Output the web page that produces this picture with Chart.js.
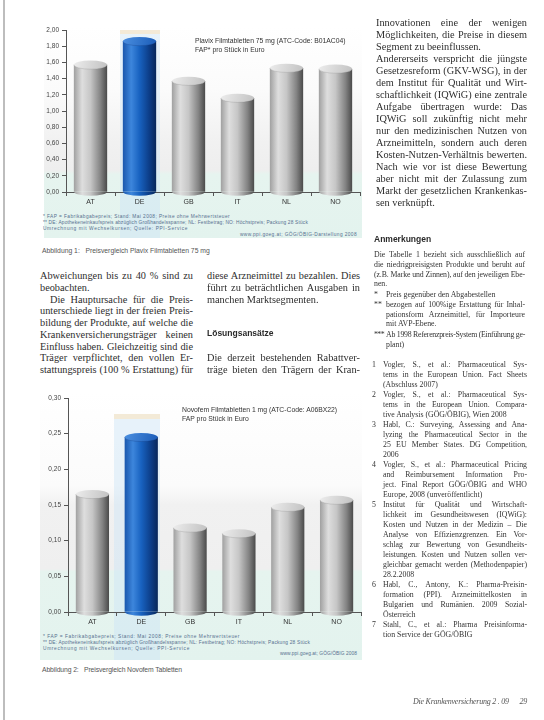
<!DOCTYPE html>
<html><head><meta charset="utf-8">
<script src="https://cdn.jsdelivr.net/npm/chart.js@4"></script>
<style>
html,body{margin:0;padding:0;background:#fff;}
#page{position:relative;width:544px;height:720px;overflow:hidden;background:#fff;}
.ln{position:absolute;white-space:nowrap;color:#333;}
.ln span{display:inline-block;white-space:pre;}
.body{font-family:"Liberation Serif",serif;font-size:10.3px;line-height:12px;height:12px;color:#2e2e2e;}
.small{font-family:"Liberation Serif",serif;font-size:7.8px;line-height:10px;height:10px;}
.head{font-family:"Liberation Sans",sans-serif;font-size:8.5px;font-weight:bold;line-height:12px;height:12px;color:#2a2a2a;}
.ctitle{font-family:"Liberation Sans",sans-serif;font-size:6.8px;line-height:9px;height:9px;color:#333;}
.fn{font-family:"Liberation Sans",sans-serif;font-size:4.8px;line-height:6px;height:6px;color:#56708e;}
.cap{font-family:"Liberation Sans",sans-serif;font-size:6.8px;line-height:10px;height:10px;color:#555;}
.foot{font-family:"Liberation Serif",serif;font-style:italic;font-size:8px;line-height:10px;height:10px;color:#555;}
.bg{position:absolute;}
canvas{position:absolute;}
</style></head>
<body><div id="page">
<div class="bg" style="left:3px;top:0;width:2px;height:720px;background:#bdbdbd"></div>
<div class="bg" style="left:44px;top:26px;width:318px;height:212px;background:linear-gradient(to bottom,#ffffff 0%,#fbfbfb 30%,#f1f1f1 55%,#eeeeee 68%,#e6f4ef 70%,#e3f3ee 100%)"></div>
<div class="bg" style="left:120px;top:30px;width:40px;height:208px;background:rgba(205,228,246,0.45)"></div>
<div class="bg" style="left:120px;top:30px;width:40px;height:4px;background:rgba(255,225,180,0.5)"></div>
<div class="bg" style="left:40px;top:392px;width:322px;height:268px;background:linear-gradient(to bottom,#ffffff 0%,#fbfbfb 35%,#f1f1f1 42%,#efefef 66%,#e6f4ef 67%,#e3f3ee 100%)"></div>
<div class="bg" style="left:114px;top:414px;width:46px;height:246px;background:rgba(205,228,246,0.45)"></div>
<div class="bg" style="left:114px;top:414px;width:46px;height:5px;background:rgba(255,225,180,0.5)"></div>
<canvas id="c1" width="335" height="193" style="left:30px;top:20px;width:335px;height:193px"></canvas>
<canvas id="c2" width="336" height="245" style="left:30px;top:388px;width:336px;height:245px"></canvas>
</div>
<script>
// ---- chart data ----
const categories = ['AT', 'DE', 'GB', 'IT', 'NL', 'NO'];
const plavixPrices = [1.57, 1.86, 1.37, 1.16, 1.53, 1.52];
const novofemPrices = [0.165, 0.245, 0.118, 0.110, 0.147, 0.157];
const plavixAxis = [0, 2.0, 0.2];      // min, max, step
const novofemAxis = [0, 0.30, 0.05];   // min, max, step
const highlightCountry = 'DE';

Chart.defaults.font.family = '"Liberation Sans", sans-serif';

function sideGradient(ctx, x, rx, blue) {
  const g = ctx.createLinearGradient(x - rx, 0, x + rx, 0);
  if (blue) {
    g.addColorStop(0, '#1a57ad'); g.addColorStop(0.25, '#3d86dc');
    g.addColorStop(0.5, '#1862c0'); g.addColorStop(0.8, '#0c3c86'); g.addColorStop(1, '#07265a');
  } else {
    g.addColorStop(0, '#a0a0a0'); g.addColorStop(0.25, '#dedede');
    g.addColorStop(0.5, '#c6c6c6'); g.addColorStop(0.8, '#838383'); g.addColorStop(1, '#4a4a4a');
  }
  return g;
}
const BAR_PCT = 0.68;
function barFill(c) {
  const ch = c.chart;
  const blue = ch.data.labels[c.dataIndex] === highlightCountry;
  if (!ch.chartArea || !ch.scales.x) return blue ? '#1862c0' : '#b0b0b0';
  const xs = ch.scales.x;
  const x = xs.getPixelForValue(c.dataIndex);
  const rx = xs.width / ch.data.labels.length * BAR_PCT / 2;
  return sideGradient(ch.ctx, x, rx, blue);
}
const cylinder = {
  id: 'cylinder',
  afterDatasetsDraw(chart) {
    const ctx = chart.ctx;
    const meta = chart.getDatasetMeta(0);
    meta.data.forEach((bar, i) => {
      const p = bar.getProps(['x', 'y', 'base', 'width'], true);
      const rx = p.width / 2, ry = Math.max(3, p.width * 0.13);
      const blue = chart.data.labels[i] === highlightCountry;
      ctx.save();
      ctx.fillStyle = sideGradient(ctx, p.x, rx, blue);
      ctx.beginPath(); ctx.ellipse(p.x, p.base, rx, ry, 0, 0, Math.PI); ctx.fill();
      const g = ctx.createLinearGradient(p.x - rx, p.y - ry, p.x + rx, p.y + ry);
      if (blue) { g.addColorStop(0, '#4b8fe0'); g.addColorStop(1, '#1a5cb8'); }
      else { g.addColorStop(0, '#ececec'); g.addColorStop(1, '#c2c2c2'); }
      ctx.fillStyle = g;
      ctx.beginPath(); ctx.ellipse(p.x, p.y, rx, ry, 0, 0, Math.PI * 2); ctx.fill();
      ctx.strokeStyle = blue ? 'rgba(10,40,100,0.35)' : 'rgba(110,110,110,0.35)';
      ctx.lineWidth = 0.6;
      ctx.beginPath(); ctx.ellipse(p.x, p.y, rx, ry, 0, 0, Math.PI); ctx.stroke();
      ctx.restore();
    });
  }
};

function makeChart(id, values, axis, yWidth, decimals) {
  return new Chart(document.getElementById(id), {
    type: 'bar',
    data: { labels: categories, datasets: [{ data: values, backgroundColor: barFill, borderWidth: 0 }] },
    options: {
      responsive: false, animation: false, devicePixelRatio: 1,
      layout: { padding: { top: 10, right: 5, left: 0, bottom: 0 } },
      plugins: { legend: { display: false }, tooltip: { enabled: false } },
      datasets: { bar: { categoryPercentage: 1, barPercentage: BAR_PCT } },
      scales: {
        x: {
          grid: { drawOnChartArea: false, tickLength: 4, color: '#555' },
          border: { color: '#555', width: 1 },
          ticks: { font: { size: 7 }, color: '#333', padding: 2 },
          afterFit(s) { s.height = 21; }
        },
        y: {
          min: axis[0], max: axis[1],
          grid: { drawOnChartArea: false, tickLength: 4, color: '#555' },
          border: { color: '#555', width: 1 },
          ticks: { stepSize: axis[2], font: { size: 6.5 }, color: '#444', padding: 3,
                   callback: v => Number(v).toFixed(decimals).replace('.', ',') },
          afterFit(s) { s.width = yWidth; }
        }
      }
    },
    plugins: [cylinder]
  });
}
makeChart('c1', plavixPrices, plavixAxis, 36, 2);
makeChart('c2', novofemPrices, novofemAxis, 38, 2);

// ---- text ----
const page = document.getElementById('page');
function line(txt, x, yc, w, cls, mode) {
  const d = document.createElement('div');
  d.className = 'ln ' + cls;
  page.appendChild(d);
  const s = document.createElement('span');
  s.textContent = txt;
  d.appendChild(s);
  const lh = parseFloat(getComputedStyle(d).lineHeight);
  d.style.left = x + 'px'; d.style.top = (yc - lh / 2) + 'px'; d.style.width = w + 'px';
  const nat = s.getBoundingClientRect().width;
  if (mode === 'j' && nat < w) {
    const n = (txt.match(/ /g) || []).length;
    if (n) s.style.wordSpacing = ((w - nat) / n) + 'px';
  } else if (mode === 'f' || nat > w) {
    s.style.letterSpacing = ((w - nat) / txt.length) + 'px';
  }
  if (mode === 'r') d.style.textAlign = 'right';
}
// chart 1 texts
line('Plavix Filmtabletten 75 mg (ATC-Code: B01AC04)', 195, 40, 162, 'ctitle', 'l');
line('FAP* pro Stück in Euro', 195, 49, 120, 'ctitle', 'l');
line('* FAP = Fabrikabgabepreis; Stand: Mai 2008; Preise ohne Mehrwertsteuer', 43, 217, 187, 'fn', 'f');
line('** DE: Apothekeneinkaufspreis abzüglich Großhandelsspanne; NL: Festbetrag; NO: Höchstpreis; Packung 28 Stück', 43, 223, 265, 'fn', 'f');
line('Umrechnung mit Wechselkursen; Quelle: PPI-Service', 43, 229, 145, 'fn', 'f');
line('www.ppi.goeg.at; GÖG/ÖBIG-Darstellung 2008', 240, 235, 117, 'fn', 'f');
line('Abbildung 1:   Preisvergleich Plavix Filmtabletten 75 mg', 42, 251, 180, 'cap', 'l');
// chart 2 texts
line('Novofem Filmtabletten 1 mg (ATC-Code: A06BX22)', 182, 409, 178, 'ctitle', 'l');
line('FAP pro Stück in Euro', 182, 418, 120, 'ctitle', 'l');
line('* FAP = Fabrikabgabepreis; Stand: Mai 2008; Preise ohne Mehrwertsteuer', 43, 637, 197, 'fn', 'f');
line('** DE: Apothekeneinkaufspreis abzüglich Großhandelsspanne; NL: Festbetrag; NO: Höchstpreis; Packung 28 Stück', 43, 643, 267, 'fn', 'f');
line('Umrechnung mit Wechselkursen; Quelle: PPI-Service', 43, 649, 147, 'fn', 'f');
line('www.ppi.goeg.at; GÖG/ÖBIG 2008', 280, 654, 77, 'fn', 'f');
line('Abbildung 2:   Preisvergleich Novofem Tabletten', 42, 670, 140, 'cap', 'l');

// left body columns
const colL = [
  ['Abweichungen bis zu 40 % sind zu', 'j'], ['beobachten.', 'l'],
  ['Die Hauptursache für die Preis-', 'j', 10], ['unterschiede liegt in der freien Preis-', 'j'],
  ['bildung der Produkte, auf welche die', 'j'], ['Krankenversicherungsträger keinen', 'j'],
  ['Einfluss haben. Gleichzeitig sind die', 'j'], ['Träger verpflichtet, den vollen Er-', 'j'],
  ['stattungspreis (100 % Erstattung) für', 'j']
];
colL.forEach((l, i) => { const ind = l[2] || 0; line(l[0], 40 + ind, 276 + i * 11.75, 153 - ind, 'body', l[1]); });
line('diese Arzneimittel zu bezahlen. Dies', 207, 276, 153, 'body', 'j');
line('führt zu beträchtlichen Ausgaben in', 207, 287.75, 153, 'body', 'j');
line('manchen Marktsegmenten.', 207, 299.5, 153, 'body', 'l');
line('Lösungsansätze', 207, 333, 120, 'head', 'l');
line('Die derzeit bestehenden Rabattver-', 207, 358, 153, 'body', 'j');
line('träge bieten den Trägern der Kran-', 207, 370, 153, 'body', 'j');

// right column
const colR = [
  ['Innovationen eine der wenigen', 'j'], ['Möglichkeiten, die Preise in diesem', 'j'],
  ['Segment zu beeinflussen.', 'l'], ['Andererseits verspricht die jüngste', 'j'],
  ['Gesetzesreform (GKV-WSG), in der', 'j'], ['dem Institut für Qualität und Wirt-', 'j'],
  ['schaftlichkeit (IQWiG) eine zentrale', 'j'], ['Aufgabe übertragen wurde: Das', 'j'],
  ['IQWiG soll zukünftig nicht mehr', 'j'], ['nur den medizinischen Nutzen von', 'j'],
  ['Arzneimitteln, sondern auch deren', 'j'], ['Kosten-Nutzen-Verhältnis bewerten.', 'j'],
  ['Nach wie vor ist diese Bewertung', 'j'], ['aber nicht mit der Zulassung zum', 'j'],
  ['Markt der gesetzlichen Krankenkas-', 'j'], ['sen verknüpft.', 'l']
];
colR.forEach((l, i) => line(l[0], 376, 23 + i * 12, 151, 'body', l[1]));
line('Anmerkungen', 374, 239, 100, 'head', 'l');
const notes = [
  ['', 'Die Tabelle 1 bezieht sich ausschließlich auf', 'j'],
  ['', 'die niedrigpreisigsten Produkte und beruht auf', 'j'],
  ['', '(z.B. Marke und Zinnen), auf den jeweiligen Ebe-', 'j'],
  ['', 'nen.', 'l'],
  ['*', 'Preis gegenüber den Abgabestellen', 'l'],
  ['**', 'bezogen auf 100%ige Erstattung für Inhal-', 'j'],
  ['', 'pationsform Arzneimittel, für Importeure', 'j'],
  ['', 'mit AVP-Ebene.', 'l'],
  ['***', 'Ab 1998 Referenzpreis-System (Einführung ge-', 'j'],
  ['', 'plant)', 'l']
];
const noteY = [255, 265, 275, 284, 295, 305, 315, 324, 335, 345];
notes.forEach((n, i) => {
  if (i < 4) { line(n[1], 374, noteY[i], 151, 'small', n[2]); return; }
  if (n[0]) line(n[0], 374, noteY[i], 10, 'small', 'l');
  line(n[1], 386, noteY[i], 139, 'small', n[2]);
});
const refs = [
  ['1', 'Vogler, S., et al.: Pharmaceutical Sys-', 'j'],
  ['', 'tems in the European Union. Fact Sheets', 'j'],
  ['', '(Abschluss 2007)', 'l'],
  ['2', 'Vogler, S., et al.: Pharmaceutical Sys-', 'j'],
  ['', 'tems in the European Union. Compara-', 'j'],
  ['', 'tive Analysis (GÖG/ÖBIG), Wien 2008', 'l'],
  ['3', 'Habl, C.: Surveying, Assessing and Ana-', 'j'],
  ['', 'lyzing the Pharmaceutical Sector in the', 'j'],
  ['', '25 EU Member States. DG Competition,', 'j'],
  ['', '2006', 'l'],
  ['4', 'Vogler, S., et al.: Pharmaceutical Pricing', 'j'],
  ['', 'and Reimbursement Information Pro-', 'j'],
  ['', 'ject. Final Report GÖG/ÖBIG and WHO', 'j'],
  ['', 'Europe, 2008 (unveröffentlicht)', 'l'],
  ['5', 'Institut für Qualität und Wirtschaft-', 'j'],
  ['', 'lichkeit im Gesundheitswesen (IQWiG):', 'j'],
  ['', 'Kosten und Nutzen in der Medizin – Die', 'j'],
  ['', 'Analyse von Effizienzgrenzen. Ein Vor-', 'j'],
  ['', 'schlag zur Bewertung von Gesundheits-', 'j'],
  ['', 'leistungen. Kosten und Nutzen sollen ver-', 'j'],
  ['', 'gleichbar gemacht werden (Methodenpapier)', 'j'],
  ['', '28.2.2008', 'l'],
  ['6', 'Habl, C., Antony, K.: Pharma-Preisin-', 'j'],
  ['', 'formation (PPI). Arzneimittelkosten in', 'j'],
  ['', 'Bulgarien und Rumänien. 2009 Sozial-', 'j'],
  ['', 'Österreich', 'l'],
  ['7', 'Stahl, C., et al.: Pharma Preisinforma-', 'j'],
  ['', 'tion Service der GÖG/ÖBIG', 'l']
];
refs.forEach((r, i) => {
  const y = 365 + i * 10;
  if (r[0]) line(r[0], 372, y, 8, 'small', 'l');
  line(r[1], 383, y, 144, 'small', r[2]);
});
line('Die Krankenversicherung 2 . 09      29', 413, 702, 114, 'foot', 'r');
</script>
</body></html>
